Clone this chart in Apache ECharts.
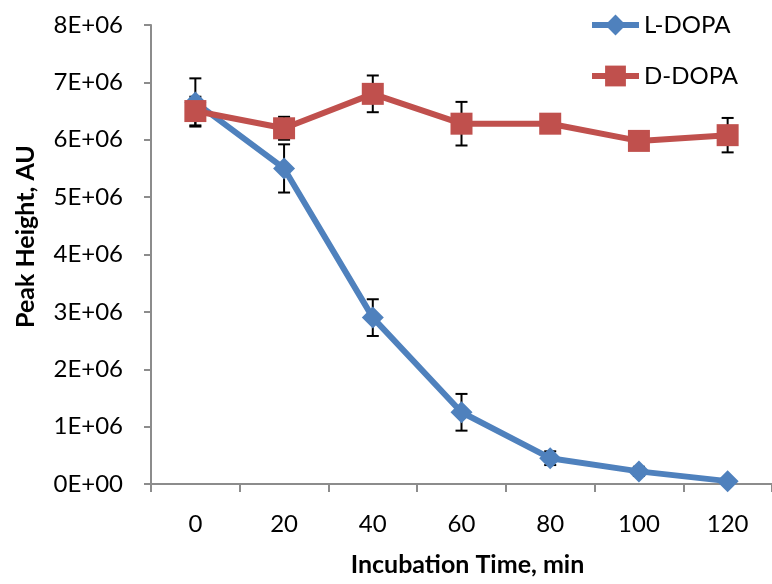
<!DOCTYPE html>
<html>
<head>
<meta charset="utf-8">
<script src="https://cdn.jsdelivr.net/npm/echarts@6/dist/echarts.min.js"></script>
<style>
html,body{margin:0;padding:0;background:#fff;}
#chart{width:772px;height:584px;}
</style>
</head>
<body>
<div id="chart"></div>
<script>
const categories = ['0', '20', '40', '60', '80', '100', '120'];
const lDopa = [6.65e6, 5.5e6, 2.9e6, 1.25e6, 0.45e6, 0.22e6, 0.05e6];
const lDopaErr = [0.42e6, 0.42e6, 0.32e6, 0.32e6, 0.12e6, 0.08e6, 0.03e6];
const dDopa = [6.5e6, 6.2e6, 6.8e6, 6.28e6, 6.28e6, 5.98e6, 6.08e6];
const dDopaErr = [0.25e6, 0.2e6, 0.32e6, 0.38e6, 0.12e6, 0.15e6, 0.3e6];
const yTicks = ['0E+00', '1E+06', '2E+06', '3E+06', '4E+06', '5E+06', '6E+06', '7E+06', '8E+06'];

const font = 'Lato, "Open Sans", sans-serif';
const blue = '#4F81BD';
const red = '#C0504D';

function errData(vals, errs) {
  return vals.map((v, i) => [i, v - errs[i], v + errs[i]]);
}

function renderErr(params, api) {
  const x = api.value(0);
  const lo = api.coord([x, api.value(1)]);
  const hi = api.coord([x, api.value(2)]);
  const hw = 6;
  const style = { stroke: '#000', lineWidth: 2 };
  return {
    type: 'group',
    children: [
      { type: 'line', shape: { x1: lo[0], y1: lo[1], x2: hi[0], y2: hi[1] }, style: style },
      { type: 'line', shape: { x1: lo[0] - hw, y1: lo[1], x2: lo[0] + hw, y2: lo[1] }, style: style },
      { type: 'line', shape: { x1: hi[0] - hw, y1: hi[1], x2: hi[0] + hw, y2: hi[1] }, style: style }
    ]
  };
}

const chart = echarts.init(document.getElementById('chart'));
chart.setOption({
  animation: false,
  backgroundColor: '#fff',
  grid: { left: 151, right: -7, top: 25, bottom: 100, containLabel: false },
  legend: {
    orient: 'vertical',
    left: 584,
    top: 8,
    itemGap: 27,
    itemWidth: 47,
    itemHeight: 26,
    lineStyle: { width: 6 },
    textStyle: { fontFamily: font, fontSize: 24, color: '#000' },
    data: ['L-DOPA', 'D-DOPA']
  },
  xAxis: {
    type: 'category',
    data: categories,
    boundaryGap: true,
    name: 'Incubation Time, min',
    nameLocation: 'middle',
    nameGap: 68,
    nameTextStyle: { fontFamily: font, fontSize: 25, fontWeight: 'bold', color: '#000', padding: [0, 0, 0, 12] },
    axisLine: { lineStyle: { color: '#8c8c8c', width: 2 } },
    axisTick: { show: true, alignWithLabel: false, length: 8, lineStyle: { color: '#8c8c8c', width: 2 } },
    axisLabel: { fontFamily: font, fontSize: 24, color: '#000', margin: 28 },
    splitLine: { show: false }
  },
  yAxis: {
    type: 'value',
    min: 0,
    max: 8e6,
    interval: 1e6,
    name: 'Peak Height, AU',
    nameLocation: 'middle',
    nameGap: 113,
    nameTextStyle: { fontFamily: font, fontSize: 25, fontWeight: 'bold', color: '#000', padding: [0, 0, 0, 36] },
    axisLine: { show: true, lineStyle: { color: '#8c8c8c', width: 2 } },
    axisTick: { show: true, length: 7, lineStyle: { color: '#8c8c8c', width: 2 } },
    axisLabel: {
      fontFamily: font, fontSize: 24, color: '#000', margin: 28,
      formatter: function (v) { return yTicks[Math.round(v / 1e6)]; }
    },
    splitLine: { show: false }
  },
  series: [
    {
      name: 'L-DOPA err', type: 'custom', renderItem: renderErr,
      data: errData(lDopa, lDopaErr), z: 1, silent: true
    },
    {
      name: 'D-DOPA err', type: 'custom', renderItem: renderErr,
      data: errData(dDopa, dDopaErr), z: 1, silent: true
    },
    {
      name: 'L-DOPA', type: 'line', data: lDopa, z: 3,
      symbol: 'diamond', symbolSize: 22,
      lineStyle: { color: blue, width: 6 },
      itemStyle: { color: blue }
    },
    {
      name: 'D-DOPA', type: 'line', data: dDopa, z: 4,
      symbol: 'rect', symbolSize: 22,
      lineStyle: { color: red, width: 6 },
      itemStyle: { color: red }
    }
  ]
});
</script>
</body>
</html>
